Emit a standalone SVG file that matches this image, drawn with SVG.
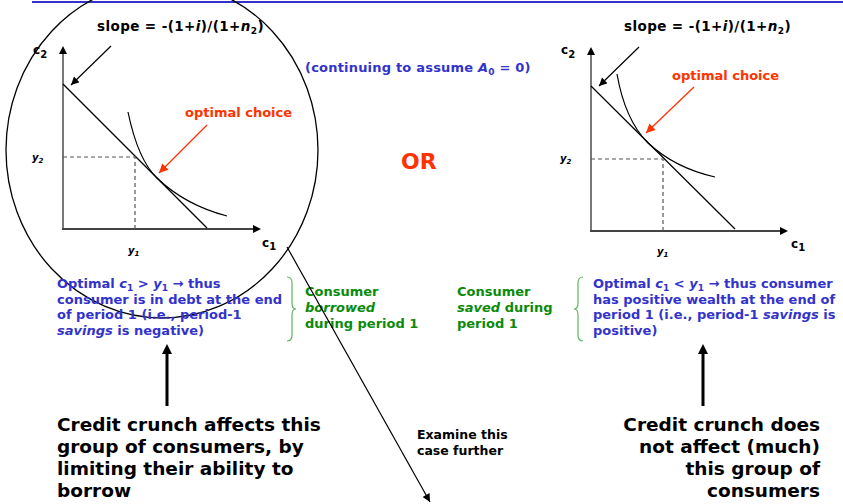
<svg xmlns="http://www.w3.org/2000/svg" width="843" height="504" viewBox="0 0 843 504">
<style>
text{font-family:"DejaVu Sans",Verdana,sans-serif;font-weight:bold;}
.blk{fill:#000;}
.blue{fill:#3333CC;font-size:13px;}
.green{fill:#0A8A0A;font-size:13px;}
.red{fill:#FF3300;}
.lbl{font-size:12px;fill:#000;}
.sm{font-size:10px;fill:#000;font-style:italic;}
.big{font-size:18.5px;fill:#000;}
.slope{font-size:13.5px;fill:#000;letter-spacing:0.4px;}
.it{font-style:italic;}
.axis{stroke:#777;stroke-width:2;fill:none;}
.xaxis{stroke:#444;stroke-width:2;fill:none;}
.thin{stroke:#000;stroke-width:1.2;fill:none;}
.dash{stroke:#555;stroke-width:1.2;stroke-dasharray:4 3;fill:none;}
.redl{stroke:#FF3300;stroke-width:1.3;fill:none;}
.brace{stroke:#5CB85C;stroke-width:1.2;fill:none;}
</style>
<defs>
<marker id="axh" viewBox="0 0 10 10" refX="0" refY="5" markerWidth="8" markerHeight="8" markerUnits="userSpaceOnUse" orient="auto"><path d="M0,0 L10,5 L0,10 z" fill="#000"/></marker>
<marker id="ah" viewBox="0 0 10 10" refX="10" refY="5" markerWidth="9" markerHeight="8" markerUnits="userSpaceOnUse" orient="auto"><path d="M0,0 L10,5 L0,10 z" fill="#000"/></marker>
<marker id="rh" viewBox="0 0 10 10" refX="10" refY="5" markerWidth="11" markerHeight="9" markerUnits="userSpaceOnUse" orient="auto"><path d="M0,0 L10,5 L0,10 z" fill="#FF3300"/></marker>
<marker id="bh" viewBox="0 0 10 10" refX="0" refY="5" markerWidth="10" markerHeight="10" markerUnits="userSpaceOnUse" orient="auto"><path d="M0,0 L10,5 L0,10 z" fill="#000"/></marker>
</defs>

<line x1="32" y1="2" x2="843" y2="2" stroke="#3333CC" stroke-width="2"/>

<g id="left-graph">
<line class="axis" x1="63" y1="230" x2="63" y2="54" marker-end="url(#axh)"/>
<line class="xaxis" x1="62" y1="229" x2="253" y2="229" marker-end="url(#axh)"/>
<line class="thin" x1="63" y1="84" x2="207" y2="228"/>
<polyline class="dash" points="63,157 135,157 135,229"/>
<path class="thin" d="M128,112 Q138,160 157,178 Q185,205 227,216"/>
<text class="lbl" x="33" y="53.5">c<tspan font-size="10" dy="4">2</tspan></text>
<text class="lbl" x="262" y="246.5">c<tspan font-size="10" dy="3.5">1</tspan></text>
<text class="sm" x="32" y="160.5">y<tspan font-size="7" dy="2">2</tspan></text>
<text class="sm" x="128" y="254">y<tspan font-size="7" dy="2">1</tspan></text>
<text x="97" y="30.7" class="slope">slope = -(1+<tspan class="it">i</tspan>)/(1+<tspan class="it">n</tspan><tspan font-size="9" dy="3">2</tspan><tspan dy="-3">)</tspan></text>
<text x="185" y="117" font-size="13" class="red">optimal choice</text>
</g>

<g id="right-graph">
<line class="axis" x1="591" y1="232" x2="591" y2="55" marker-end="url(#axh)"/>
<line class="xaxis" x1="590" y1="231" x2="780" y2="231" marker-end="url(#axh)"/>
<line class="thin" x1="591" y1="86" x2="735" y2="229"/>
<polyline class="dash" points="591,159 663,159 663,231"/>
<path class="thin" d="M617,74 Q625,120 648,143 Q675,168 715,177"/>
<text class="lbl" x="561" y="54">c<tspan font-size="10" dy="4">2</tspan></text>
<text class="lbl" x="791" y="247.5">c<tspan font-size="10" dy="3.5">1</tspan></text>
<text class="sm" x="560" y="162">y<tspan font-size="7" dy="2">2</tspan></text>
<text class="sm" x="657" y="254.5">y<tspan font-size="7" dy="2">1</tspan></text>
<text x="624" y="30.7" class="slope">slope = -(1+<tspan class="it">i</tspan>)/(1+<tspan class="it">n</tspan><tspan font-size="9" dy="3">2</tspan><tspan dy="-3">)</tspan></text>
<text x="672" y="80" font-size="13" class="red">optimal choice</text>
</g>

<g id="circle">
<ellipse cx="162" cy="150" rx="156" ry="168" fill="none" stroke="#000" stroke-width="1.3"/>
</g>

<g id="note">
<text class="blue" x="305" y="72" letter-spacing="0.2">(continuing to assume <tspan class="it">A</tspan><tspan font-size="9" dy="3">0</tspan><tspan dy="-3"> = 0)</tspan></text>
</g>

<g id="or">
<text x="401" y="169" font-size="22" class="red">OR</text>
</g>

<g id="borrower-text">
<text class="blue" x="57" y="288.3">Optimal <tspan class="it">c</tspan><tspan font-size="9" dy="3">1</tspan><tspan dy="-3"> &gt; </tspan><tspan class="it">y</tspan><tspan font-size="9" dy="3">1</tspan><tspan dy="-3"> → thus</tspan></text>
<text class="blue" x="57" y="303.8">consumer is in debt at the end</text>
<text class="blue" x="57" y="319.3">of period 1 (i.e., period-1</text>
<text class="blue" x="57" y="334.8"><tspan class="it">savings</tspan> is negative)</text>
</g>

<g id="borrowed">
<path class="brace" d="M287,277 Q292,277 292,283 L292,303 Q292,309 296,309 Q292,309 292,315 L292,335 Q292,341 287,341"/>
<text class="green" x="305" y="296">Consumer</text>
<text class="green it" x="305" y="312">borrowed</text>
<text class="green" x="305" y="328">during period 1</text>
</g>

<g id="saved">
<path class="brace" d="M583,277 Q578,277 578,283 L578,303 Q578,309 574,309 Q578,309 578,315 L578,335 Q578,341 583,341"/>
<text class="green" x="457" y="296">Consumer</text>
<text class="green" x="457" y="312"><tspan class="it">saved</tspan> during</text>
<text class="green" x="457" y="328">period 1</text>
</g>

<g id="saver-text">
<text class="blue" x="593" y="288.3">Optimal <tspan class="it">c</tspan><tspan font-size="9" dy="3">1</tspan><tspan dy="-3"> &lt; </tspan><tspan class="it">y</tspan><tspan font-size="9" dy="3">1</tspan><tspan dy="-3"> → thus consumer</tspan></text>
<text class="blue" x="593" y="303.8">has positive wealth at the end of</text>
<text class="blue" x="593" y="319.3">period 1 (i.e., period-1 <tspan class="it">savings</tspan> is</text>
<text class="blue" x="593" y="334.8">positive)</text>
</g>

<g id="affects">
<text class="big" x="57" y="431">Credit crunch affects this</text>
<text class="big" x="57" y="453">group of consumers, by</text>
<text class="big" x="57" y="475">limiting their ability to</text>
<text class="big" x="57" y="497">borrow</text>
</g>

<g id="not-affect">
<text class="big" x="820" y="431" text-anchor="end">Credit crunch does</text>
<text class="big" x="820" y="453" text-anchor="end">not affect (much)</text>
<text class="big" x="820" y="475" text-anchor="end">this group of</text>
<text class="big" x="820" y="497" text-anchor="end">consumers</text>
</g>

<g id="examine">
<text x="417" y="439" font-size="12.5" class="blk">Examine this</text>
<text x="417" y="455" font-size="12.5" class="blk">case further</text>
</g>

<g id="connectors">
<line class="thin" x1="111" y1="46" x2="71" y2="85" marker-end="url(#ah)"/>
<line class="thin" x1="639" y1="47" x2="599" y2="86" marker-end="url(#ah)"/>
<line class="redl" x1="207" y1="125" x2="159" y2="173" marker-end="url(#rh)"/>
<line class="redl" x1="694" y1="87" x2="646" y2="133" marker-end="url(#rh)"/>
<line class="thin" x1="287" y1="247" x2="430" y2="502" marker-end="url(#ah)"/>
<line stroke="#000" stroke-width="3" x1="167" y1="406" x2="167" y2="354" marker-end="url(#bh)"/>
<line stroke="#000" stroke-width="3" x1="703" y1="406" x2="703" y2="354" marker-end="url(#bh)"/>
</g>
</svg>
